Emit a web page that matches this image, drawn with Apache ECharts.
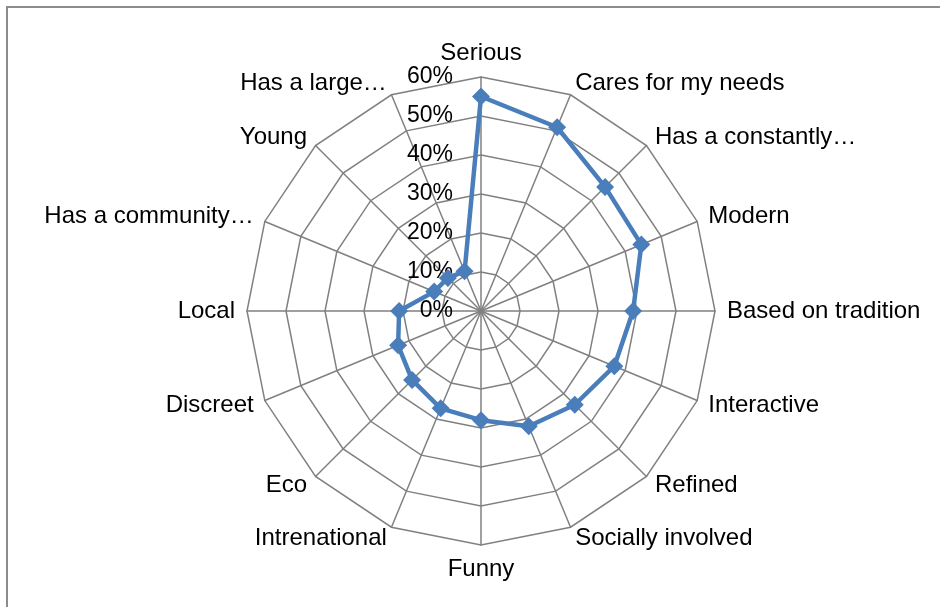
<!DOCTYPE html>
<html>
<head>
<meta charset="utf-8">
<script src="https://cdn.jsdelivr.net/npm/echarts@6/dist/echarts.min.js"></script>
<style>
  html, body { margin: 0; padding: 0; background: #fff; }
  #chart { width: 940px; height: 607px; }
</style>
</head>
<body>
<div id="chart"></div>
<script>
// clockwise from the top, as in the picture
var categories = ['Serious', 'Cares for my needs', 'Has a constantly\u2026', 'Modern',
  'Based on tradition', 'Interactive', 'Refined', 'Socially involved', 'Funny',
  'Intrenational', 'Eco', 'Discreet', 'Local', 'Has a community\u2026', 'Young',
  'Has a large\u2026'];
var values = [0.55, 0.51, 0.45, 0.445, 0.39, 0.37, 0.34, 0.32, 0.28,
  0.27, 0.25, 0.23, 0.21, 0.13, 0.12, 0.11];
var tickLabels = ['0%', '10%', '20%', '30%', '40%', '50%', '60%'];
var maxValue = 0.6;

// echarts lays radar indicators out counter-clockwise, so flip all but the first
function clockwise(arr) {
  return [arr[0]].concat(arr.slice(1).reverse());
}

var indicators = clockwise(categories).map(function (name, i) {
  var ind = { name: name, min: 0, max: maxValue };
  if (i === 0) {
    ind.axisLabel = {
      show: true,
      showMinLabel: true,
      showMaxLabel: true,
      color: '#000',
      fontSize: 23,
      fontFamily: 'Liberation Sans',
      margin: 28,
      formatter: function (v) {
        return tickLabels[Math.round(v * 10)];
      }
    };
  }
  return ind;
});

var chart = echarts.init(document.getElementById('chart'));
chart.setOption({
  animation: false,
  graphic: [{
    type: 'rect',
    shape: { x: 7, y: 7, width: 960, height: 640 },
    style: { fill: 'none', stroke: '#8c8c8c', lineWidth: 2 },
    silent: true
  }],
  radar: {
    center: [481, 311],
    radius: 234,
    startAngle: 90,
    splitNumber: 6,
    shape: 'polygon',
    indicator: indicators,
    axisName: {
      color: '#000',
      fontSize: 24,
      fontFamily: 'Liberation Sans'
    },
    nameGap: 12,
    axisLine: { lineStyle: { color: '#808080', width: 1.5 } },
    splitLine: { lineStyle: { color: '#808080', width: 1.5 } },
    splitArea: { show: false },
    axisTick: { show: false },
    axisLabel: { show: false }
  },
  series: [{
    type: 'radar',
    symbol: 'diamond',
    symbolSize: 18,
    lineStyle: { color: '#4a7ebb', width: 4.5 },
    itemStyle: { color: '#4a7ebb' },
    data: [{ value: clockwise(values) }]
  }]
});
</script>
</body>
</html>
